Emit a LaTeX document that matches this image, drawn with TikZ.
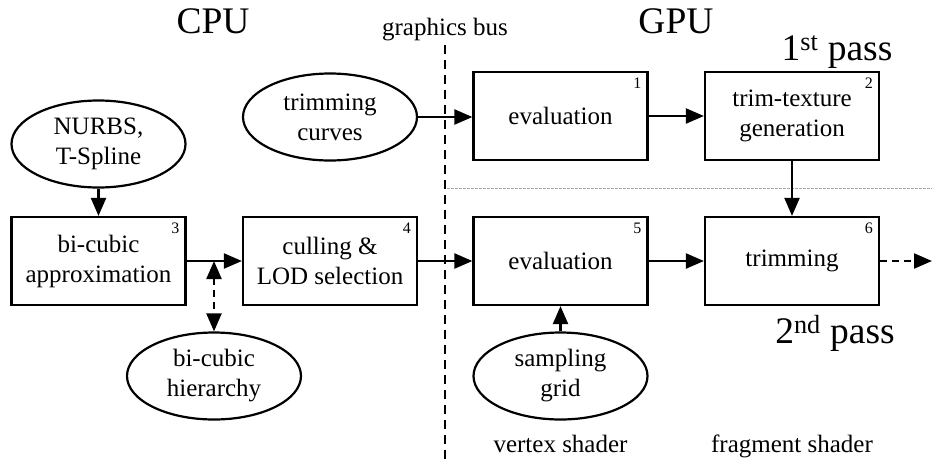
\documentclass[tikz,border=0pt]{standalone}
\usepackage{fontspec}
\setmainfont{Liberation Serif}
\usetikzlibrary{arrows.meta,shapes.geometric}
\begin{document}
\begin{tikzpicture}[x=1pt,y=-1pt,
  txt/.style={font=\fontsize{25}{30}\selectfont},
  big/.style={font=\fontsize{37.5}{40}\selectfont, inner sep=0pt, anchor=base},
  stagebox/.style={txt, draw, line width=2.2pt, minimum width=174pt, minimum height=88pt,
    inner sep=0pt, align=center},
  datasrc/.style={txt, draw, ellipse, line width=2.2pt, minimum width=174pt, minimum height=87pt,
    inner sep=0pt, align=center},
  numlab/.style={anchor=north east, inner sep=0pt, font=\fontsize{16}{16}\selectfont},
  caption/.style={txt, inner sep=0pt, anchor=base},
  flow/.style={line width=2.2pt, -{Triangle[length=18pt,width=15pt]}},
  dflow/.style={line width=2.2pt, dash pattern=on 7pt off 5pt,
    {Triangle[length=18pt,width=15pt]}-{Triangle[length=18pt,width=15pt]}},
  outflow/.style={line width=2.2pt, dash pattern=on 7pt off 5pt, -{Triangle[length=18pt,width=15pt]}},
  busline/.style={line width=2pt, dash pattern=on 9pt off 6pt},
  passline/.style={line width=1pt, gray!70, dash pattern=on 2.5pt off 1.5pt}
]
\useasboundingbox (0,0) rectangle (932,464);

% headings
\node[big] (cpu) at (213,33) {CPU};
\node[big] (gpu) at (676,33) {GPU};
\node[caption] (bus) at (445,35) {graphics bus};
\node[big] (p1) at (837,60) {1\textsuperscript{st} pass};
\node[big] (p2) at (835,343) {2\textsuperscript{nd} pass};
\node[caption] (vs) at (560.5,452) {vertex shader};
\node[caption] (fs) at (792,452) {fragment shader};

% separators
\coordinate (busT) at (445,45);
\coordinate (busB) at (445,464);
\draw[busline] (busT) -- (busB);
\coordinate (sepL) at (447,188);
\coordinate (sepR) at (932,188);
\draw[passline] (sepL) -- (sepR);

% processing stages
\node[stagebox] (b1) at (560.5,116) {evaluation};
\node[stagebox] (b2) at (792,116) {trim-texture\\generation};
\node[stagebox] (b3) at (98.5,261) {bi-cubic\\approximation};
\node[stagebox] (b4) at (330,261) {culling \&\\LOD selection};
\node[stagebox] (b5) at (560.5,261) {evaluation};
\node[stagebox] (b6) at (792,261) {trimming};

\foreach \b/\n in {b1/1,b2/2,b3/3,b4/4,b5/5,b6/6}
  \node[numlab] (n\n) at ([shift={(-7,7)}]\b.north east) {\n};

% data sources
\node[datasrc] (nurbs) at (98.5,144) {NURBS,\\T-Spline};
\node[datasrc] (tcurves) at (330,117) {trimming\\curves};
\node[datasrc] (hier) at (214,376) {bi-cubic\\hierarchy};
\node[datasrc] (grid) at (560.5,376) {sampling\\grid};

% connectors
\draw[flow] (nurbs) -- (b3);
\draw[flow] (tcurves.east) -- (tcurves.east -| b1.west);
\draw[flow] (b1) -- (b2);
\draw[flow] (b2) -- (b6);
\draw[flow] (b3) -- (b4);
\draw[flow] (b4) -- (b5);
\draw[flow] (b5) -- (b6);
\draw[flow] (grid) -- (b5);
\draw[dflow] (hier.north |- b3.east) -- (hier.north);
\coordinate (out) at (932,261);
\draw[outflow] (b6.east) -- (out);
\end{tikzpicture}
\end{document}
